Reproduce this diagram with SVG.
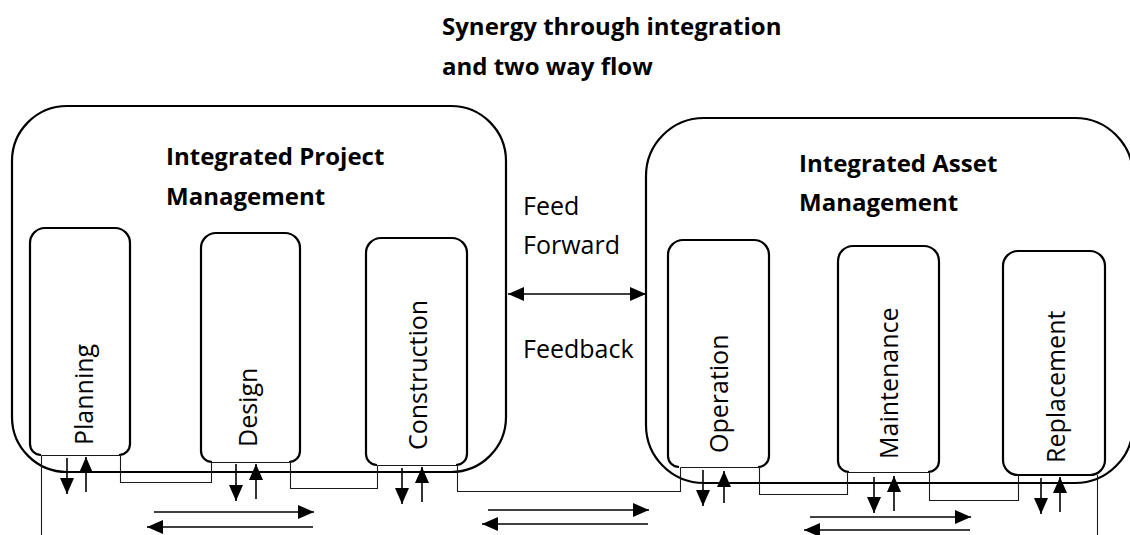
<svg xmlns="http://www.w3.org/2000/svg" width="1130" height="535" viewBox="0 0 1130 535">
  <style>
    .frame { fill: none; stroke: #000; stroke-width: 2.2; }
    .stage { fill: none; stroke: #000; stroke-width: 2.2; }
    .thin { fill: none; stroke: #1a1a1a; stroke-width: 1.1; }
    .arrow { fill: none; stroke: #000; stroke-width: 1.6; marker-end: url(#head); }
    .heading { font-family: "Open Sans", "Liberation Sans", sans-serif; font-weight: bold; font-size: 24px; fill: #000; }
    .label { font-family: "Open Sans", "Liberation Sans", sans-serif; font-size: 25px; fill: #000; }
  </style>
  <defs>
    <marker id="head" markerUnits="userSpaceOnUse" markerWidth="17" markerHeight="14" refX="16" refY="7" orient="auto-start-reverse">
      <path d="M0,0 L16,7 L0,14 z" fill="#000"/>
    </marker>
  </defs>

  <rect width="1130" height="535" fill="#fff"/>

  <g id="title">
    <text class="heading" x="442" y="35">Synergy through integration</text>
    <text class="heading" x="442" y="75">and two way flow</text>
  </g>

  <!-- Project side -->
  <g id="project-management">
    <rect class="frame" x="12" y="106" width="494" height="366" rx="55" ry="55"/>
    <text class="heading" x="166" y="165">Integrated Project</text>
    <text class="heading" x="166" y="205">Management</text>
  </g>

  <g id="planning">
    <path class="stage" d="M41,455 A11,11 0 0 1 30,444 V243 A15,15 0 0 1 45,228 H115 A15,15 0 0 1 130,243 V444 A11,11 0 0 1 119,455"/>
    <text class="label" transform="translate(93,445) rotate(-90)">Planning</text>
  </g>

  <g id="design">
    <path class="stage" d="M212,462 A11,11 0 0 1 201,451 V248 A15,15 0 0 1 216,233 H285 A15,15 0 0 1 300,248 V451 A11,11 0 0 1 289,462"/>
    <text class="label" transform="translate(257,447) rotate(-90)">Design</text>
  </g>

  <g id="construction">
    <path class="stage" d="M377,465 A11,11 0 0 1 366,454 V253 A15,15 0 0 1 381,238 H452 A15,15 0 0 1 467,253 V454 A11,11 0 0 1 456,465"/>
    <text class="label" transform="translate(427,450) rotate(-90)">Construction</text>
  </g>

  <!-- Asset side -->
  <g id="asset-management">
    <rect class="frame" x="646" y="118" width="487" height="365" rx="58" ry="58"/>
    <text class="heading" x="799" y="172">Integrated Asset</text>
    <text class="heading" x="799" y="211">Management</text>
  </g>

  <g id="operation">
    <path class="stage" d="M679,467 A11,11 0 0 1 668,456 V255 A15,15 0 0 1 683,240 H754 A15,15 0 0 1 769,255 V456 A11,11 0 0 1 758,467"/>
    <text class="label" transform="translate(728,453) rotate(-90)">Operation</text>
  </g>

  <g id="maintenance">
    <path class="stage" d="M849,472 A11,11 0 0 1 838,461 V261 A15,15 0 0 1 853,246 H924 A15,15 0 0 1 939,261 V461 A11,11 0 0 1 928,472"/>
    <text class="label" transform="translate(898,459) rotate(-90)">Maintenance</text>
  </g>

  <g id="replacement">
    <rect class="stage" x="1003" y="251" width="102" height="224" rx="15" ry="15"/>
    <text class="label" transform="translate(1065,463) rotate(-90)">Replacement</text>
  </g>

  <!-- Feed forward / feedback link between the two frames -->
  <g id="feed-link">
    <text class="label" x="523" y="215">Feed</text>
    <text class="label" x="523" y="254">Forward</text>
    <text class="label" x="523" y="358">Feedback</text>
  </g>

  <g id="connectors">
    <!-- stage bases and links (half-pixel aligned for crisp 1px lines) -->
    <path class="thin" d="M41.5,455.5 H119.5"/>
    <path class="thin" d="M211.5,462.5 H289.5"/>
    <path class="thin" d="M377.5,465.5 H456.5"/>
    <path class="thin" d="M680.5,467.5 H758.5"/>
    <path class="thin" d="M848.5,472.5 H928.5"/>
    <path class="thin" d="M41.5,455.5 V535"/>
    <path class="thin" d="M120.5,455.5 V482.5 H211.5 V462.5"/>
    <path class="thin" d="M290.5,462.5 V488.5 H377.5 V465.5"/>
    <path class="thin" d="M457.5,465.5 V491.5 H680.5 V467.5"/>
    <path class="thin" d="M759.5,467.5 V494.5 H847.5 V472.5"/>
    <path class="thin" d="M929.5,472.5 V500.5 H1018.5 V475"/>
    <path class="thin" d="M1097.5,475 V535"/>

    <!-- feed forward / feedback -->
    <path class="arrow" d="M508,294 H646" marker-start="url(#head)"/>

    <!-- vertical exchange under each stage -->
    <path class="arrow" d="M67,458 V494"/>
    <path class="arrow" d="M86,492 V457"/>
    <path class="arrow" d="M236,464 V501"/>
    <path class="arrow" d="M256,499 V464"/>
    <path class="arrow" d="M402,468 V504"/>
    <path class="arrow" d="M422,502 V467"/>
    <path class="arrow" d="M703,470 V506"/>
    <path class="arrow" d="M724,503 V471"/>
    <path class="arrow" d="M874,477 V513"/>
    <path class="arrow" d="M894,511 V476"/>
    <path class="arrow" d="M1041,478 V514"/>
    <path class="arrow" d="M1060,512 V477"/>

    <!-- two way flow between stages -->
    <path class="arrow" d="M154,512 H314"/>
    <path class="arrow" d="M313,527 H147"/>
    <path class="arrow" d="M488,510 H649"/>
    <path class="arrow" d="M648,524 H482"/>
    <path class="arrow" d="M810,517 H971"/>
    <path class="arrow" d="M970,530 H804"/>
  </g>
</svg>
